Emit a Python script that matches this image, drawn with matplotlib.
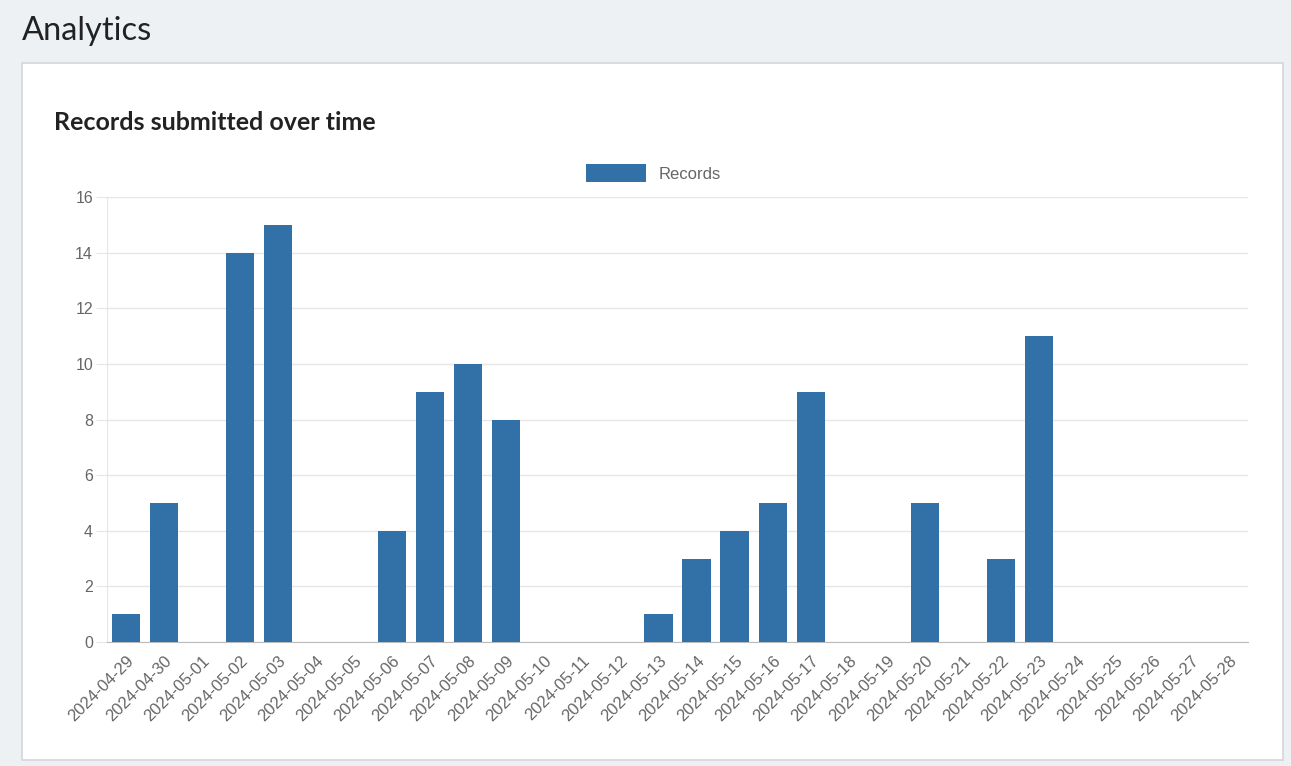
import datetime as dt
import matplotlib
matplotlib.use('Agg')
import matplotlib.pyplot as plt
from matplotlib.patches import Rectangle

# records per day
start = dt.date(2024, 4, 29)
counts = [1, 5, 0, 14, 15, 0, 0, 4, 9, 10, 8, 0, 0, 0, 1,
          3, 4, 5, 9, 0, 0, 5, 0, 3, 11, 0, 0, 0, 0, 0]
days = [(start + dt.timedelta(days=i)).strftime('%Y-%m-%d') for i in range(len(counts))]
yticks = [0, 2, 4, 6, 8, 10, 12, 14, 16]

W, H = 1291, 766
fig = plt.figure(figsize=(W / 100, H / 100), dpi=100)
fig.patch.set_facecolor('#eef1f4')

# white card
card = Rectangle((22 / W, 1 - 760 / H), 1261 / W, 697 / H, transform=fig.transFigure,
                 facecolor='white', edgecolor='#d3d6da', linewidth=1.2, zorder=-10)
fig.patches.append(card)

fig.text(22 / W, 1 - 31 / H, 'Analytics', family=['Lato', 'DejaVu Sans'],
         fontsize=23.5, color='#222222', va='center', ha='left')
fig.text(54 / W, 1 - 122 / H, 'Records submitted over time', family=['Lato', 'DejaVu Sans'],
         fontsize=18, fontweight='bold', color='#222222', va='center', ha='left')

left, right, top, bottom = 107, 1248, 197, 642
ax = fig.add_axes([left / W, 1 - bottom / H, (right - left) / W, (bottom - top) / H])
ax.set_zorder(5)
ax.set_facecolor('white')

x = list(range(len(days)))
bars = ax.bar(x, counts, width=0.74, color='#3171a8', zorder=3, label='Records')
ax.set_xlim(-0.5, len(days) - 0.5)
ax.set_ylim(0, 16)
ax.set_yticks(yticks)
ax.set_xticks(x)
ax.set_xticklabels(days, rotation=45, ha='right', rotation_mode='anchor')

for lab in ax.get_xticklabels():
    lab.set_family(['Liberation Sans', 'DejaVu Sans'])
    lab.set_fontsize(12)
    lab.set_color('#666666')
for lab in ax.get_yticklabels():
    lab.set_family(['Liberation Sans', 'DejaVu Sans'])
    lab.set_fontsize(11.5)
    lab.set_color('#666666')

ax.grid(True, axis='y', color='#e6e6e6', linewidth=1, zorder=0)
ax.tick_params(axis='y', length=8, color='#e6e6e6', pad=2)
ax.tick_params(axis='x', length=0, pad=8)
for s in ['top', 'right']:
    ax.spines[s].set_visible(False)
ax.spines['left'].set_color('#e6e6e6')
ax.spines['bottom'].set_color('#bbbbbb')

leg = fig.legend(handles=[bars], labels=['Records'], loc='center',
                 bbox_to_anchor=(653 / W, 1 - 173 / H), frameon=False,
                 handlelength=3.6, handleheight=1.3, handletextpad=0.75,
                 prop={'family': ['Liberation Sans', 'DejaVu Sans'], 'size': 12})
leg.set_zorder(6)
for t in leg.get_texts():
    t.set_color('#666666')

plt.savefig('out.png', dpi=100, facecolor=fig.get_facecolor())
